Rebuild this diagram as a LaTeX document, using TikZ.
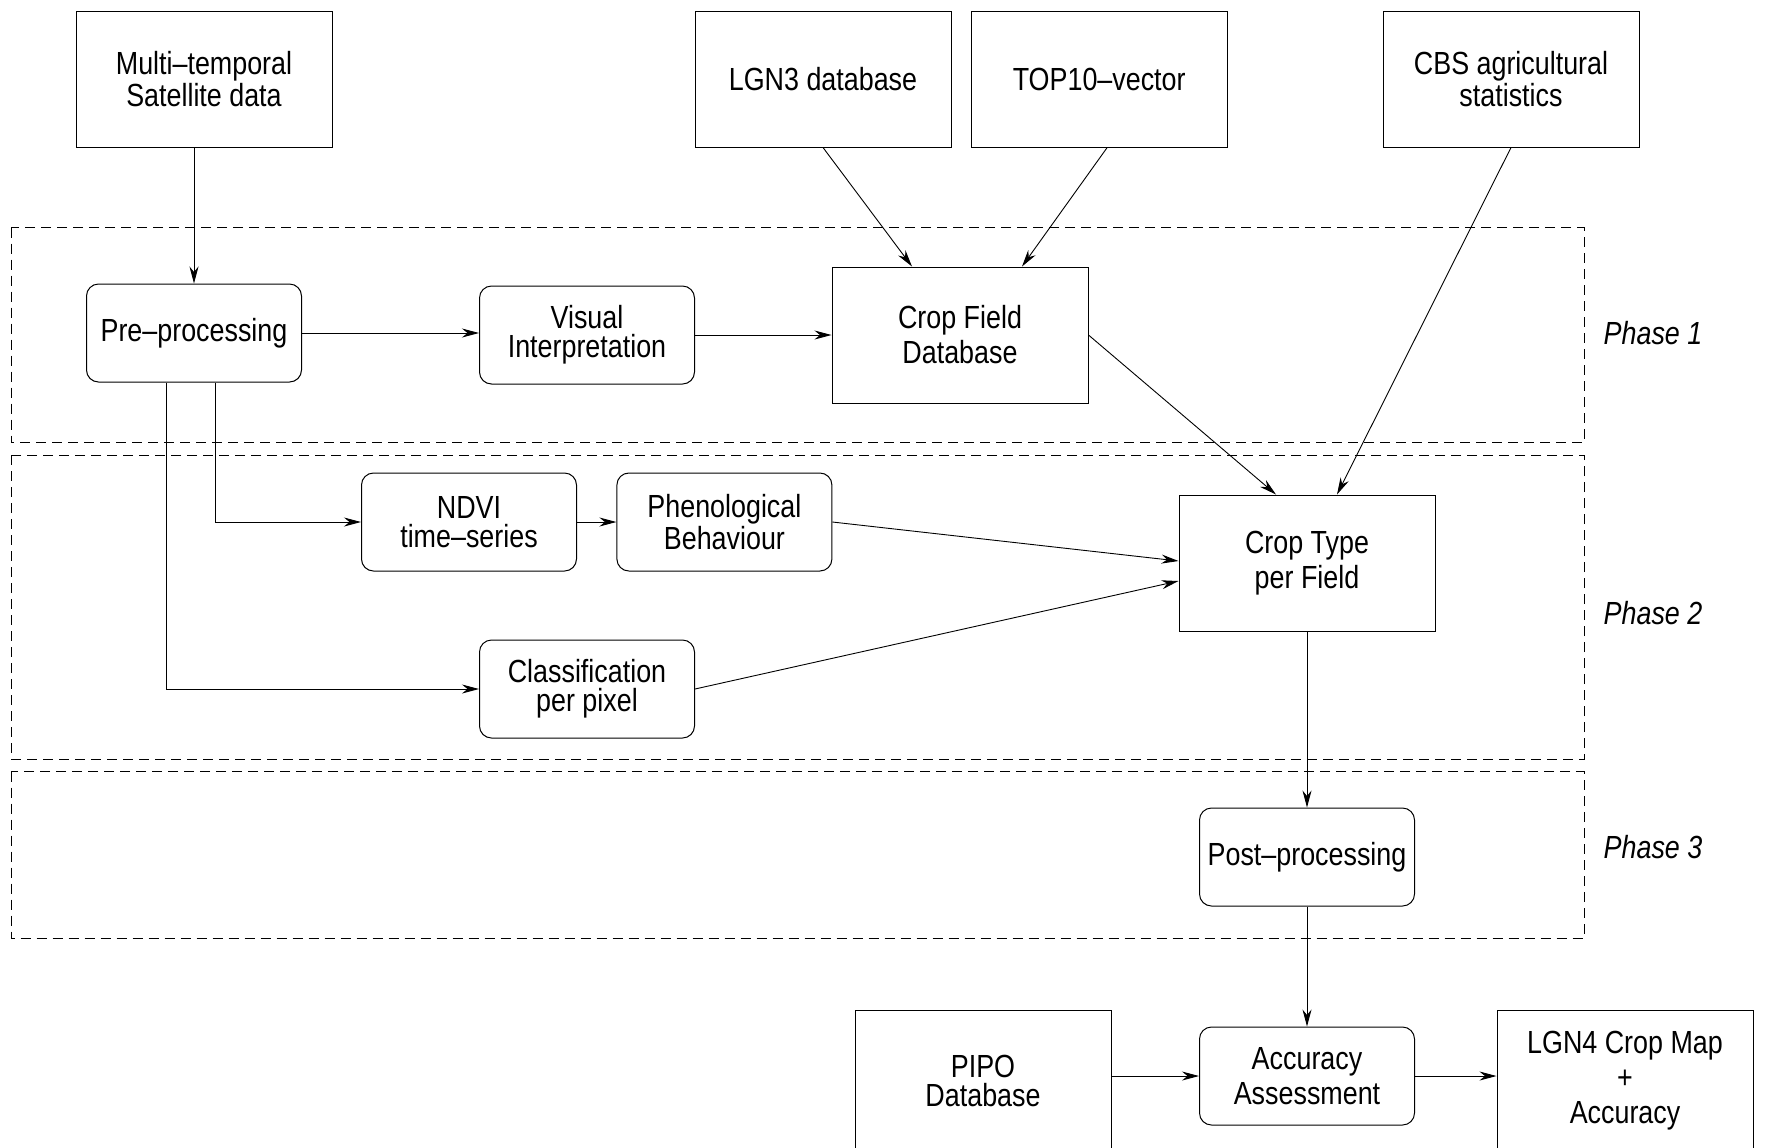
\documentclass[tikz,border=0pt]{standalone}
\usepackage{fontspec}
\setmainfont[FakeStretch=0.84]{Liberation Sans}
\usetikzlibrary{arrows.meta,positioning}

\begin{document}
\begin{tikzpicture}[x=0.5pt,y=-0.5pt]
 	\tikzstyle{source}=[rectangle, draw=black, line width=0.5pt, minimum width=128pt, minimum height=68pt, align=center, font=\fontsize{16}{14.5}\selectfont]
 	\tikzstyle{proc}=[rectangle, rounded corners=6pt, draw=black, line width=0.5pt, minimum width=107.5pt, minimum height=49pt, align=center, font=\fontsize{16}{14.5}\selectfont]
 	\tikzstyle{loose}=[font=\fontsize{16}{17.5}\selectfont]
 	\tikzstyle{connect}=[-{Stealth[length=8.5pt,width=4.5pt]}, line width=0.45pt]
 	\tikzstyle{phase}=[dash pattern=on 5pt off 3pt, line width=0.45pt]
 	\tikzstyle{phaselabel}=[font=\itshape\fontsize{16}{18}\selectfont]
 	\useasboundingbox (0,0) rectangle (1766,1147);
 	% inputs
 	\node[source] (mts) at (204,79) {Multi--temporal\\Satellite data};
 	\node[source] (lgn3) at (823,79) {LGN3 database};
 	\node[source] (top10) [right=9.6pt of lgn3] {TOP10--vector};
 	\node[source] (cbs) at (1511,79) {CBS agricultural\\statistics};
 	% phase 1
 	\node[proc] (pre) at (194,333) {Pre--processing};
 	\node[proc] (vis) at (587,335) {Visual\\Interpretation};
 	\node[source, loose] (cfd) at (960,335) {Crop Field\\Database};
 	% phase 2
 	\node[proc] (ndvi) at (469,522) {NDVI\\time--series};
 	\node[proc] (phen) [right=19.7pt of ndvi] {Phenological\\Behaviour};
 	\node[proc] (cls) at (587,689) {Classification\\per pixel};
 	\node[source, loose] (ctf) at (1307,563) {Crop Type\\per Field};
 	% phase 3 and output
 	\node[proc] (post) at (1307,857) {Post--processing};
 	\node[proc, loose] (acc) at (1307,1076) {Accuracy\\Assessment};
 	\node[source, minimum height=70pt, anchor=north] (pipo) at (983,1010) {PIPO\\Database};
 	\node[source, loose, minimum height=70pt, anchor=north] (lgn4) at (1625,1010) {LGN4 Crop Map\\+\\Accuracy};
 	% phases
 	\draw[phase] (11,227.5) rectangle (1584,442.5);
 	\draw[phase] (11,455) rectangle (1584,759);
 	\draw[phase] (11,771.5) rectangle (1584,938);
 	\node[phaselabel] (ph1) at (1653,333) {Phase 1};
 	\node[phaselabel] (ph2) at (1653,613) {Phase 2};
 	\node[phaselabel] (ph3) at (1653,847) {Phase 3};
 	\path (pre.north |- mts.south) edge [connect] (pre.north)
 	(lgn3.south) edge [connect] ([xshift=-24pt]cfd.north)
 	([xshift=4pt]top10.south) edge [connect] ([xshift=31pt]cfd.north)
 	(cfd.east) edge [connect] ([xshift=-15.5pt]ctf.north)
 	(cbs.south) edge [connect] ([xshift=15pt]ctf.north)
 	(pre.east) edge [connect] (pre.east -| vis.west)
 	(vis.east) edge [connect] (vis.east -| cfd.west)
 	(ndvi.east) edge [connect] (phen.west)
 	(phen.east) edge [connect] ([yshift=1pt]ctf.west)
 	(cls.east) edge [connect] ([yshift=-9pt]ctf.west)
 	(ctf.south) edge [connect] (post.north)
 	(post.south) edge [connect] (acc.north)
 	(acc.west -| pipo.east) edge [connect] (acc.west)
 	(acc.east) edge [connect] (acc.east -| lgn4.west);
 	\draw[connect] ([xshift=10.5pt]pre.south) |- (ndvi.west);
 	\draw[connect] ([xshift=-13.8pt]pre.south) |- (cls.west);
\end{tikzpicture}
\end{document}
